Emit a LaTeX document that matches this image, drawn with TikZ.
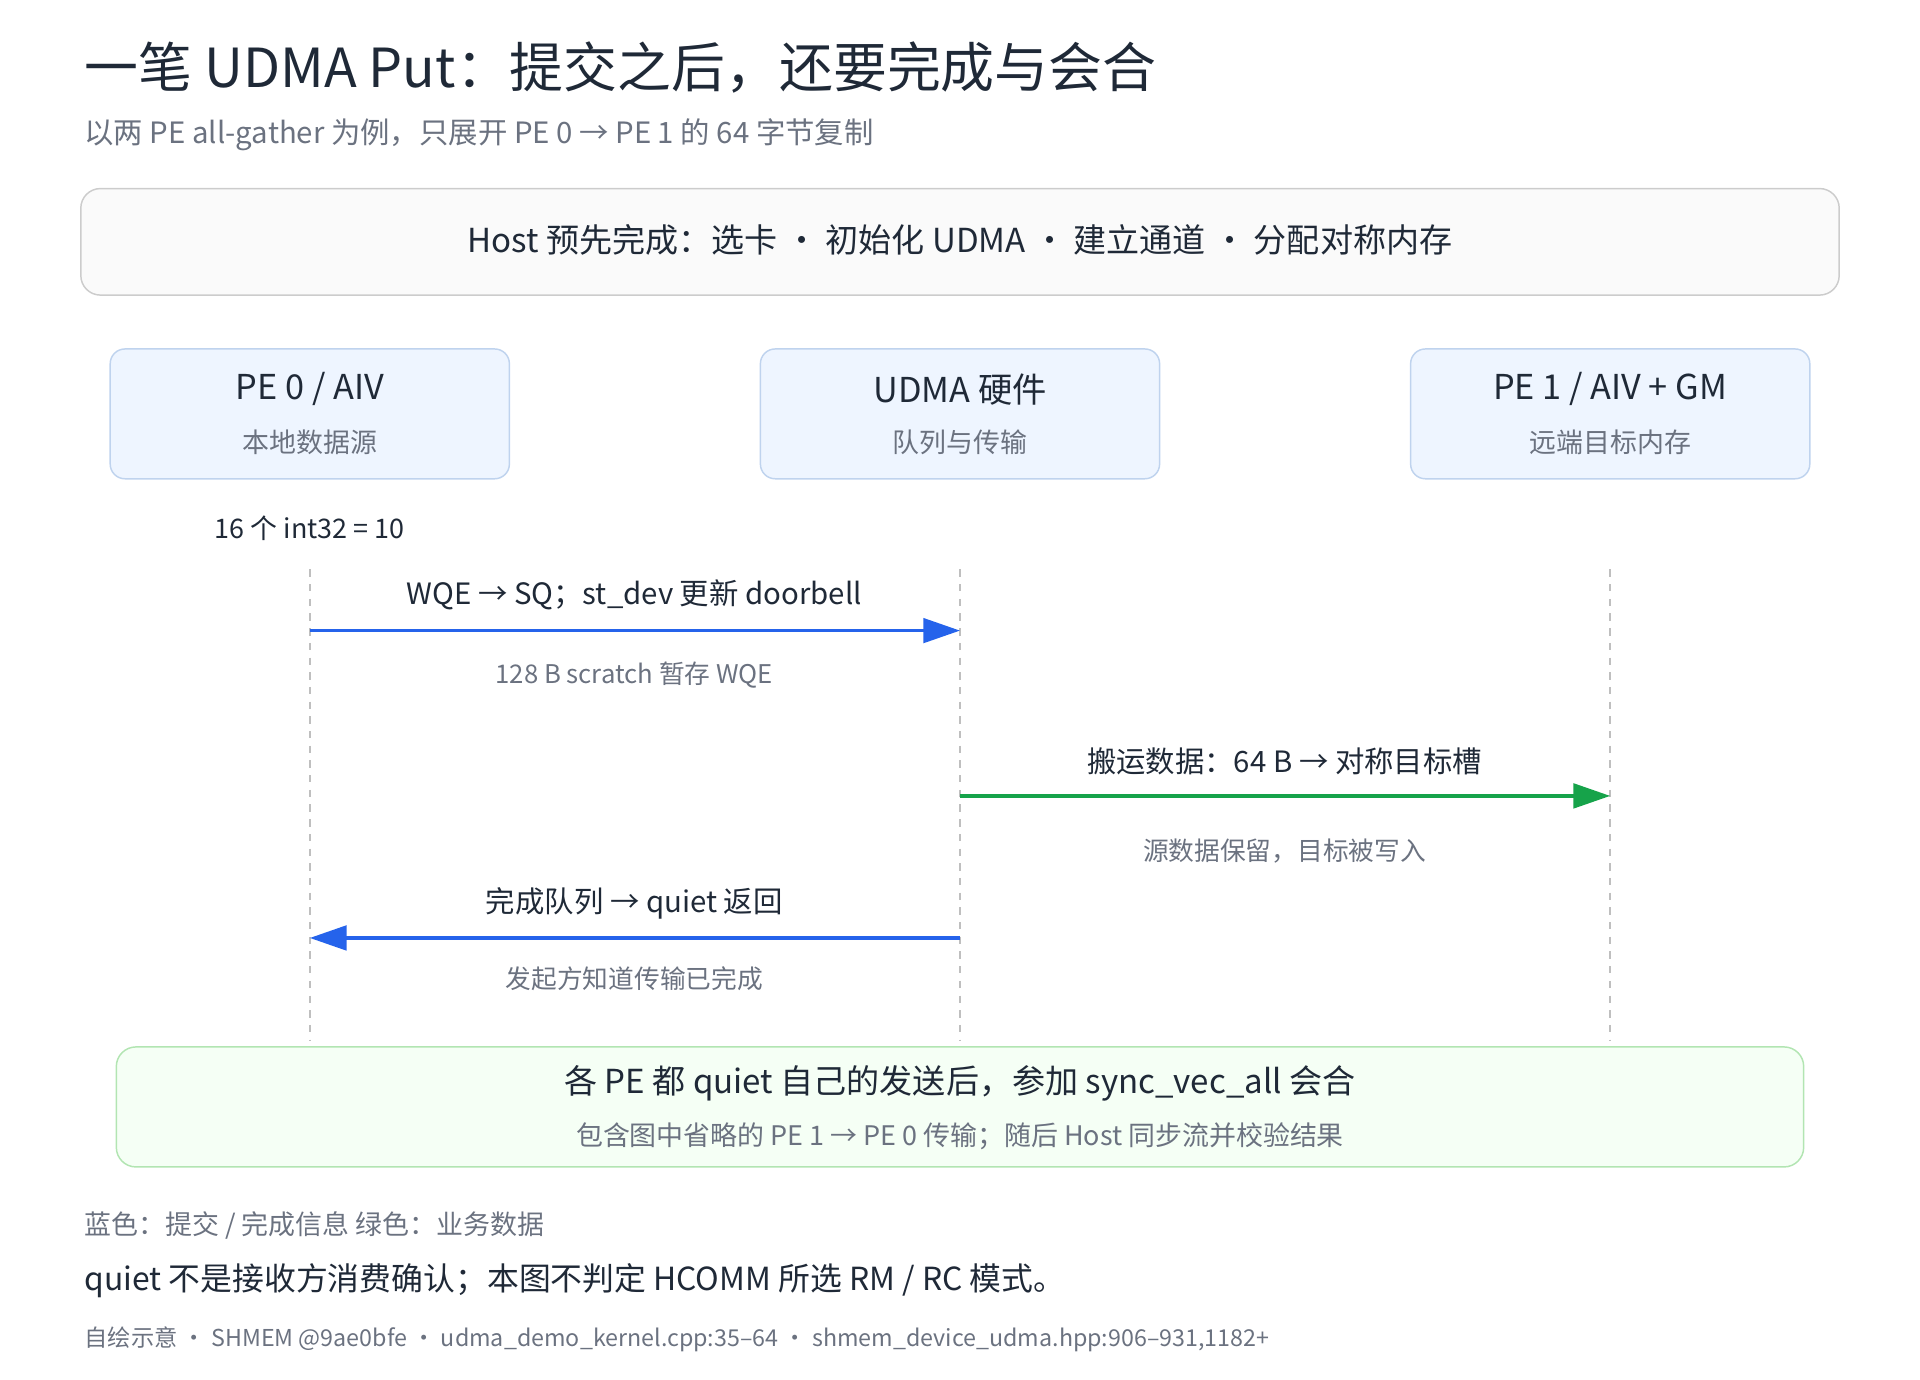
\documentclass[tikz,border=0pt]{standalone}
\usepackage{fontspec}
\setmainfont{Noto Sans CJK SC}
\usetikzlibrary{arrows.meta,positioning}
\definecolor{ink}{HTML}{1F2937}
\definecolor{muted}{HTML}{6B7280}
\definecolor{bluearrow}{HTML}{2563EB}
\definecolor{greenarrow}{HTML}{16A34A}
\definecolor{lanefill}{HTML}{EEF5FF}
\definecolor{laneline}{HTML}{BFD3EE}
\tikzset{
  lane/.style={draw=laneline, fill=lanefill, rounded corners=6pt, line width=0.6pt,
               minimum width=163pt, minimum height=53pt},
  lifeline/.style={gray!50, dashed, line width=0.8pt},
  msg/.style={line width=1.4pt, -{Triangle[length=15pt,width=10pt]}},
  lbl/.style={font=\fontsize{12}{14}\selectfont, text=ink},
  note/.style={font=\fontsize{10.5}{13}\selectfont, text=muted}
}
\begin{document}
\begin{tikzpicture}[x=0.5pt,y=-0.5pt]
        \useasboundingbox (0,0) rectangle (1568,1127);

        % title
        \node[anchor=west, text=ink, font=\fontsize{22}{26}\selectfont] (title) at (62,55)
            {一笔 UDMA Put：提交之后，还要完成与会合};
        \node[anchor=west, text=muted, font=\fontsize{12}{14}\selectfont] (subtitle) at (62,110)
            {以两 PE all-gather 为例，只展开 PE 0 → PE 1 的 64 字节复制};

        % host setup
        \draw[draw=gray!40, fill=gray!4, rounded corners=8pt, line width=0.6pt] (66,154) rectangle (1502,241);
        \node[lbl, font=\fontsize{13.5}{16}\selectfont] (host) at (784,196)
            {Host 预先完成：选卡 · 初始化 UDMA · 建立通道 · 分配对称内存};

        % lanes
        \node[lane] (pe0)  at (253,338) {};
        \node[lane] (udma) at (784,338) {};
        \node[lane] (pe1)  at (1315,338) {};
        \node[lbl, font=\fontsize{14}{16}\selectfont] at (253,318) {PE 0 / AIV};
        \node[note, font=\fontsize{11}{13}\selectfont] at (253,361) {本地数据源};
        \node[lbl, font=\fontsize{14}{16}\selectfont] at (784,318) {UDMA 硬件};
        \node[note, font=\fontsize{11}{13}\selectfont] at (784,361) {队列与传输};
        \node[lbl, font=\fontsize{14}{16}\selectfont] at (1315,318) {PE 1 / AIV + GM};
        \node[note, font=\fontsize{11}{13}\selectfont] at (1315,361) {远端目标内存};

        \node[lbl, font=\fontsize{11}{13}\selectfont] (data) at (253,431) {16 个 int32 = 10};

        % lifelines
        \foreach \x/\n in {253/a, 784/b, 1315/c} {
            \coordinate (\n top) at (\x,465);
            \coordinate (\n bot) at (\x,850);
            \draw[lifeline] (\n top) -- (\n bot);
        }
        \coordinate (a1) at (253,515);  \coordinate (b1) at (784,515);
        \coordinate (b2) at (784,650);  \coordinate (c2) at (1315,650);
        \coordinate (b3) at (784,766);  \coordinate (a3) at (253,766);

        % messages
        \draw[msg, bluearrow] (a1) -- (b1);
        \node[lbl] at (518,486) {WQE → SQ；st\_dev 更新 doorbell};
        \node[note] at (518,551) {128 B scratch 暂存 WQE};

        \draw[msg, greenarrow] (b2) -- (c2);
        \node[lbl] at (1049,622) {搬运数据：64 B → 对称目标槽};
        \node[note] at (1049,695) {源数据保留，目标被写入};

        \draw[msg, bluearrow] (b3) -- (a3);
        \node[lbl] at (518,738) {完成队列 → quiet 返回};
        \node[note] at (518,799) {发起方知道传输已完成};

        % sync
        \draw[draw=green!50!gray!40, fill=green!4, rounded corners=8pt, line width=0.6pt] (95,855) rectangle (1473,953);
        \node[lbl, font=\fontsize{13.5}{16}\selectfont] (sync) at (784,885)
            {各 PE 都 quiet 自己的发送后，参加 sync\_vec\_all 会合};
        \node[note, font=\fontsize{11}{13}\selectfont] at (784,928)
            {包含图中省略的 PE 1 → PE 0 传输；随后 Host 同步流并校验结果};

        % footer
        \node[anchor=west, note, font=\fontsize{11}{13}\selectfont] (legend) at (62,1001)
            {蓝色：提交 / 完成信息 绿色：业务数据};
        \node[anchor=west, lbl, font=\fontsize{13}{15}\selectfont] (remark) at (62,1046)
            {quiet 不是接收方消费确认；本图不判定 HCOMM 所选 RM / RC 模式。};
        \node[anchor=west, note, font=\fontsize{9.5}{11}\selectfont] (source) at (62,1094)
            {自绘示意 · SHMEM @9ae0bfe · udma\_demo\_kernel.cpp:35–64 · shmem\_device\_udma.hpp:906–931,1182+};
\end{tikzpicture}
\end{document}
